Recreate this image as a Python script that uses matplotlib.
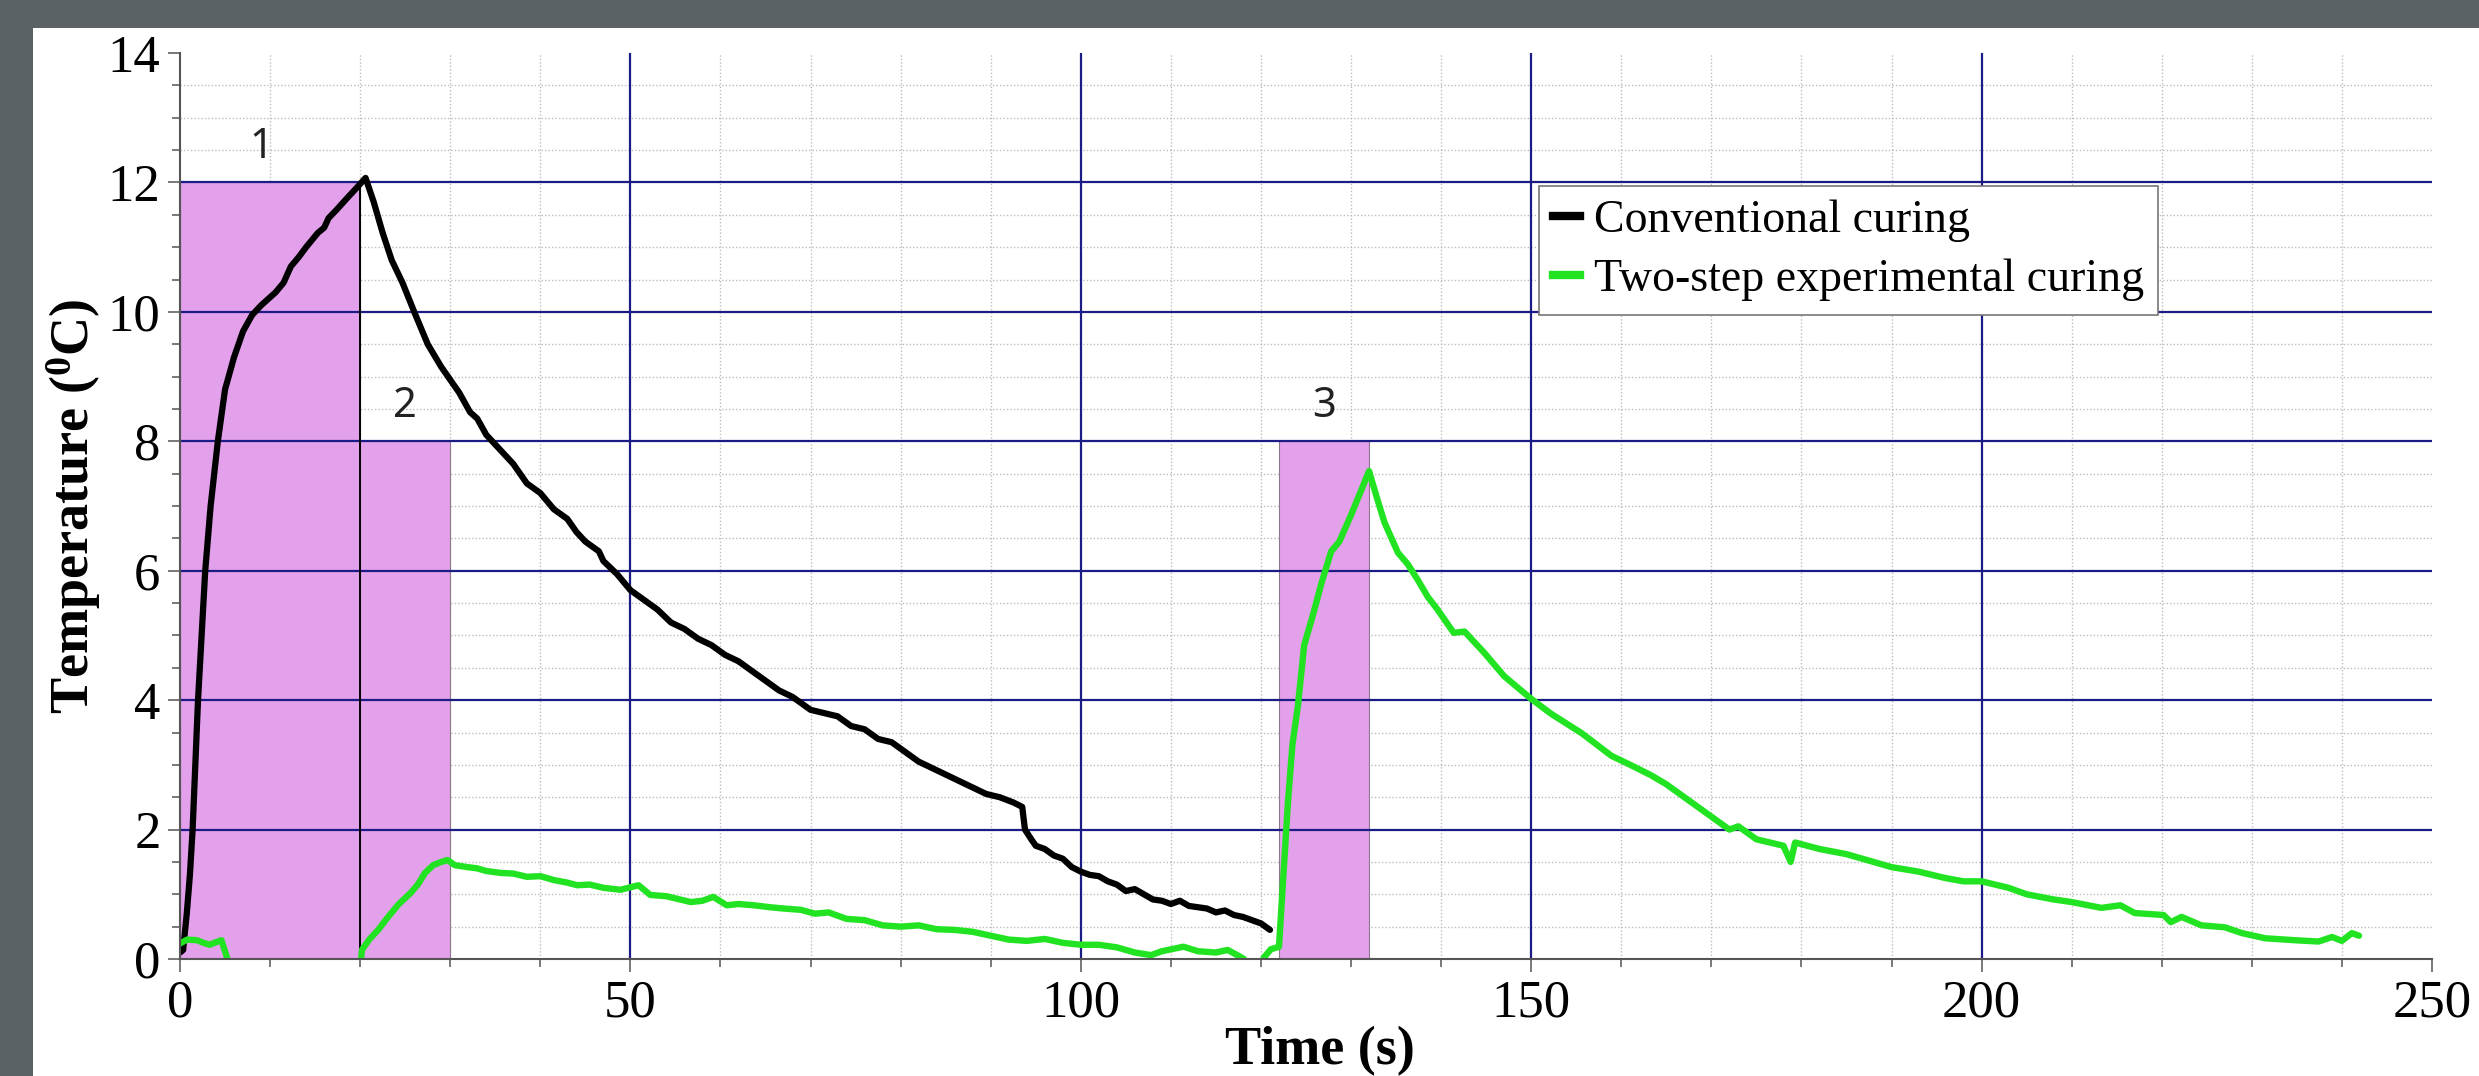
import matplotlib
matplotlib.use("Agg")
from matplotlib import pyplot as plt
from matplotlib.patches import Rectangle
from matplotlib.lines import Line2D
from matplotlib.ticker import MultipleLocator

plt.rcParams['font.family'] = ['Liberation Serif', 'DejaVu Serif']
plt.rcParams['mathtext.fontset'] = 'custom'
plt.rcParams['mathtext.rm'] = 'Liberation Serif'
plt.rcParams['mathtext.bf'] = 'Liberation Serif:bold'

# conventional curing (black)
conv_time = [0, 0.35, 0.75, 1.1, 1.4, 1.7, 2.0, 2.4, 2.8, 3.4, 4.2, 5.0, 6.0, 7.0, 8.0,
             9.0, 10.6, 11.5, 12.3, 13.2, 14.0, 15.3, 16.0, 16.5, 17.4, 18.5, 19.5, 20.6,
             21.5, 22.5, 23.5, 24.7, 26.0, 27.5, 29.0, 30.0, 31.0, 32.2, 33.0, 34.0, 35.0,
             36.0, 37.0, 38.5, 40.0, 41.5, 43.0, 44.0, 45.0, 46.5, 47.0, 48.5, 50.0, 51.5,
             53.0, 54.5, 56.0, 57.5, 59.0, 60.5, 62.0, 63.5, 65.0, 66.5, 68.0, 70.0, 71.5,
             73.0, 74.5, 76.0, 77.5, 79.0, 80.5, 82.0, 83.5, 85.0, 86.5, 88.0, 89.5, 91.0,
             92.5, 93.5, 93.8, 94.5, 95.0, 96.0, 97.0, 98.0, 99.0, 100.0, 101.0, 102.0,
             103.0, 104.0, 105.0, 106.0, 107.0, 108.0, 109.0, 110.0, 111.0, 112.0, 113.0,
             114.0, 115.0, 116.0, 117.0, 118.0, 119.0, 120.0, 120.5, 121.0]
conv_temp = [0.1, 0.14, 0.7, 1.3, 2.0, 3.0, 4.0, 5.0, 6.0, 7.0, 8.0, 8.8, 9.3, 9.7, 9.95,
             10.1, 10.3, 10.45, 10.7, 10.85, 11.0, 11.22, 11.3, 11.45, 11.58, 11.75, 11.9, 12.07,
             11.7, 11.22, 10.8, 10.45, 10.0, 9.5, 9.15, 8.95, 8.75, 8.45, 8.35, 8.1, 7.95,
             7.8, 7.65, 7.35, 7.2, 6.95, 6.8, 6.6, 6.45, 6.3, 6.15, 5.95, 5.7, 5.55,
             5.4, 5.2, 5.1, 4.95, 4.85, 4.7, 4.6, 4.45, 4.3, 4.15, 4.05, 3.85, 3.8,
             3.75, 3.6, 3.55, 3.4, 3.35, 3.2, 3.05, 2.95, 2.85, 2.75, 2.65, 2.55, 2.5,
             2.42, 2.35, 2.0, 1.85, 1.75, 1.7, 1.6, 1.55, 1.42, 1.35, 1.3, 1.28,
             1.2, 1.15, 1.05, 1.08, 1.0, 0.92, 0.9, 0.85, 0.9, 0.82, 0.8,
             0.78, 0.72, 0.75, 0.68, 0.65, 0.6, 0.55, 0.5, 0.45]

# two-step experimental curing (green)
exp_time = [0, 0.8, 1.9, 2.6, 3.3, 4.0, 4.6, 5.2, 5.6, 20.0, 20.2, 21.0, 22.0, 23.1, 24.3,
            25.6, 26.4, 27.2, 28.1, 29.0, 29.7, 30.5, 31.9, 33.0, 34.0, 35.6, 37.0, 38.5,
            40.0, 41.5, 43.0, 44.1, 45.5, 47.0, 48.9, 50.9, 52.2, 54.0, 55.5, 56.7, 58.0,
            59.2, 60.7, 62.0, 63.7, 65.5, 67.0, 68.9, 70.5, 72.0, 74.0, 76.0, 78.0, 80.0,
            82.0, 84.0, 86.0, 88.0, 90.0, 92.0, 94.0, 96.0, 98.0, 100.0, 102.0, 104.0,
            106.0, 107.8, 109.0, 111.4, 113.0, 115.0, 116.3, 117.5, 118.1, 118.5, 120.0,
            120.3, 121.1, 122.0, 122.6, 123.0, 123.5, 124.1, 124.8, 125.8, 126.7, 127.8,
            128.7, 130.0, 131.0, 132.0, 132.8, 133.7, 135.2, 136.3, 137.4, 138.5, 139.6,
            141.4, 142.6, 144.8, 147.0, 150.0, 152.2, 155.6, 158.9, 161.0, 163.3, 165.0,
            168.0, 170.0, 172.0, 173.0, 175.0, 178.0, 178.8, 179.3, 182.0, 185.0, 188.0,
            190.0, 193.0, 196.0, 198.0, 200.0, 203.0, 205.0, 208.0, 210.0, 213.3, 215.4,
            217.0, 220.2, 221.0, 222.2, 224.4, 227.0, 228.9, 231.5, 234.8, 237.4, 238.9,
            240.0, 241.1, 241.9]
exp_temp = [0.24, 0.3, 0.29, 0.25, 0.22, 0.26, 0.29, 0.03, -0.15, -0.15, 0.14, 0.3, 0.45, 0.65, 0.85,
            1.02, 1.15, 1.33, 1.45, 1.5, 1.53, 1.45, 1.42, 1.4, 1.36, 1.33, 1.32, 1.27,
            1.28, 1.22, 1.18, 1.14, 1.15, 1.1, 1.07, 1.14, 0.99, 0.97, 0.92, 0.88, 0.9,
            0.96, 0.83, 0.85, 0.83, 0.8, 0.78, 0.76, 0.7, 0.72, 0.62, 0.6, 0.52, 0.5,
            0.52, 0.46, 0.45, 0.42, 0.36, 0.3, 0.28, 0.31, 0.25, 0.22, 0.22, 0.18,
            0.1, 0.06, 0.12, 0.19, 0.12, 0.1, 0.14, 0.05, 0.0, -0.15, -0.15,
            0.02, 0.15, 0.19, 1.55, 2.43, 3.32, 3.91, 4.85, 5.33, 5.8, 6.3,
            6.45, 6.86, 7.2, 7.54, 7.16, 6.75, 6.28, 6.1, 5.86, 5.6, 5.4,
            5.04, 5.06, 4.73, 4.37, 4.02, 3.79, 3.49, 3.14, 3.0, 2.84, 2.7,
            2.4, 2.2, 2.0, 2.05, 1.85, 1.75, 1.5, 1.8, 1.7, 1.62, 1.5,
            1.42, 1.35, 1.25, 1.2, 1.2, 1.1, 1.0, 0.92, 0.88, 0.79, 0.83,
            0.71, 0.68, 0.57, 0.65, 0.52, 0.49, 0.4, 0.32, 0.29, 0.27, 0.34,
            0.28, 0.4, 0.36]

region_start = [0, 20, 122]
region_end = [20, 30, 132]
region_top = [12, 8, 8]
region_names = ['1', '2', '3']
region_label_x = [9, 25, 127]

x_major = [0, 50, 100, 150, 200, 250]
y_major = [0, 2, 4, 6, 8, 10, 12, 14]
x_bold_grid = [50, 100, 150, 200]
y_bold_grid = [2, 4, 6, 8, 10, 12]

W, H = 2479, 1076
fig = plt.figure(figsize=(W / 100, H / 100), dpi=100)
fig.patch.set_facecolor('#5b6265')
fig.add_artist(Rectangle((33 / W, 0), 1 - 33 / W, 1 - 28 / H, transform=fig.transFigure,
                         facecolor='white', edgecolor='none', zorder=-5))

ax = fig.add_axes([180 / W, 1 - 959 / H, (2432 - 180) / W, (959 - 53) / H])
ax.set_facecolor('white')
ax.set_xlim(0, 250)
ax.set_ylim(0, 14)

for s in ['top', 'right']:
    ax.spines[s].set_visible(False)
for s in ['left', 'bottom']:
    ax.spines[s].set_color('#555555')
    ax.spines[s].set_linewidth(1.5)
    ax.spines[s].set_zorder(6)

ax.set_xticks(x_major)
ax.set_yticks(y_major)
ax.xaxis.set_minor_locator(MultipleLocator(10))
ax.yaxis.set_minor_locator(MultipleLocator(0.5))
ax.tick_params(which='major', length=9, width=1.1, color='#555555', labelsize=38)
ax.tick_params(which='minor', length=5.5, width=1.1, color='#555555')
ax.tick_params(axis='x', which='major', pad=6)
ax.tick_params(axis='y', which='major', pad=5)

# dotted fine grid
ax.set_axisbelow(True)
ax.grid(which='minor', color='#bdbdbd', linestyle=(0, (1, 1.5)), linewidth=1.0)
ax.grid(which='major', visible=False)

# shaded heating windows
for x0, x1, top in zip(region_start, region_end, region_top):
    ax.add_patch(Rectangle((x0, 0), x1 - x0, top, facecolor='#e3a0eb',
                           edgecolor='#8a7a8c', linewidth=0.8, zorder=1))
for lx, top, name in zip(region_label_x, region_top, region_names):
    ax.text(lx, top + 0.55, name, fontsize=30, color='#222222', ha='center', va='center',
            family=['Noto Sans', 'DejaVu Sans'], zorder=4)

# bold navy grid
for yv in y_bold_grid:
    ax.axhline(yv, color='#1c1c86', linewidth=1.6, zorder=2)
for xv in x_bold_grid:
    ax.axvline(xv, color='#1c1c86', linewidth=1.6, zorder=2)
ax.plot([region_end[0], region_end[0]], [0, region_top[0]], color='black', linewidth=1.4, zorder=2)

ax.plot(conv_time, conv_temp, color='black', linewidth=4.5, zorder=5,
        solid_joinstyle='round', solid_capstyle='round')
ax.plot(exp_time, exp_temp, color='#22e322', linewidth=4.6, zorder=5,
        solid_joinstyle='round', solid_capstyle='round')

ax.set_xlabel('Time (s)', fontsize=39, fontweight='bold')
ax.set_ylabel(r'Temperature ($\mathbf{^{0}}$C)', fontsize=39, fontweight='bold')
ax.xaxis.set_label_coords(0.506, -0.074)
ax.yaxis.set_label_coords(-0.034, 0.5)

handles = [Line2D([], [], color='black', linewidth=6),
           Line2D([], [], color='#22e322', linewidth=6)]
leg = ax.legend(handles, ['Conventional curing', 'Two-step experimental curing'],
                loc='upper left', bbox_to_anchor=(0.6035, 0.853), borderaxespad=0,
                fontsize=33, handlelength=0.6, handletextpad=0.3, labelspacing=0.35,
                borderpad=0.3, fancybox=False, framealpha=1, edgecolor='#777777')
leg.get_frame().set_linewidth(1.2)
leg.set_zorder(7)

fig.savefig('out.png', dpi=100, facecolor=fig.get_facecolor())
